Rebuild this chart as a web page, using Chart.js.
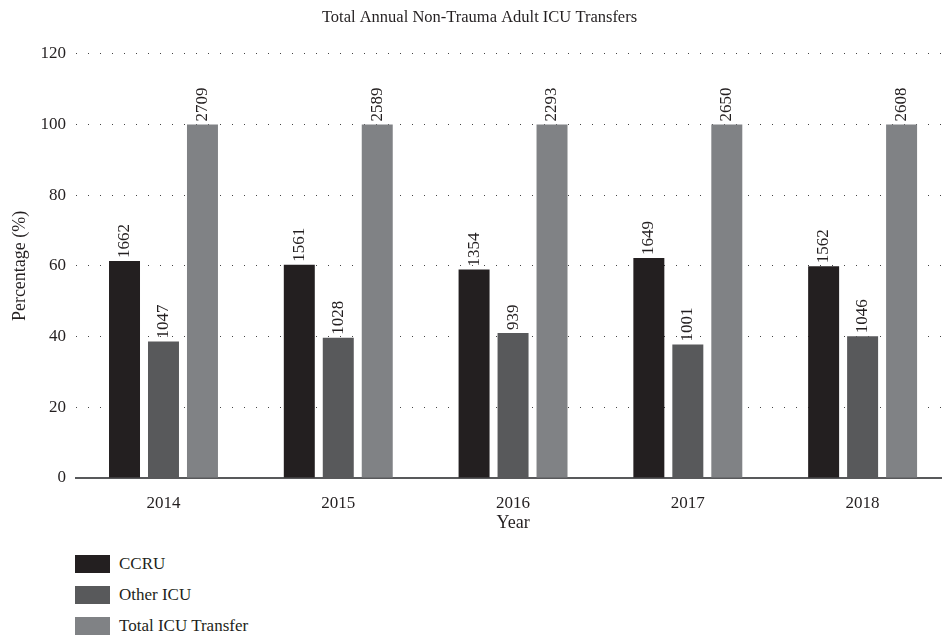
<!DOCTYPE html>
<html>
<head>
<meta charset="utf-8">
<script src="https://cdn.jsdelivr.net/npm/chart.js@4"></script>
<style>
    html, body { margin: 0; padding: 0; background: #fff; overflow: hidden; }
    #wrap { position: relative; width: 950px; height: 534px; }
    #legend { position: absolute; left: 75px; top: 555px; font-family: "Liberation Serif", serif; font-size: 17px; color: #231f20; }
    .item { display: flex; align-items: center; height: 18px; margin-bottom: 13px; }
    .box { width: 35px; height: 18px; margin-right: 9px; }
</style>
</head>
<body>
<div id="wrap"><canvas id="icuChart"></canvas></div>
<div id="legend"></div>
<script>
// Años y series (porcentaje sobre el total anual)
const years = ["2014", "2015", "2016", "2017", "2018"];
const ccruPct = [61.4, 60.3, 59.0, 62.2, 59.9];
const otherPct = [38.6, 39.7, 41.0, 37.8, 40.1];
const totalPct = [100, 100, 100, 100, 100];

// Número de traslados que se muestran encima de cada barra
const ccruCount = [1662, 1561, 1354, 1649, 1562];
const otherCount = [1047, 1028, 939, 1001, 1046];
const totalCount = [2709, 2589, 2293, 2650, 2608];

const yTicks = [0, 20, 40, 60, 80, 100, 120];

const serif = "'Liberation Serif', 'Times New Roman', serif";
const ink = "#231f20";

// Etiquetas verticales con el conteo sobre cada barra
const countLabels = {
    id: "countLabels",
    afterDatasetsDraw(chart) {
        const ctx = chart.ctx;
        chart.data.datasets.forEach((ds, i) => {
            const meta = chart.getDatasetMeta(i);
            meta.data.forEach((bar, j) => {
                ctx.save();
                ctx.translate(bar.x, bar.y - 3);
                ctx.rotate(-Math.PI / 2);
                ctx.font = "17px " + serif;
                ctx.fillStyle = ink;
                ctx.textAlign = "left";
                ctx.textBaseline = "middle";
                ctx.fillText(String(ds.counts[j]), 0, 0);
                ctx.restore();
            });
        });
    },
};

const chart = new Chart(document.getElementById("icuChart"), {
    type: "bar",
    data: {
        labels: years,
        datasets: [
            { label: "CCRU", data: ccruPct, counts: ccruCount, backgroundColor: "#231f20" },
            { label: "Other ICU", data: otherPct, counts: otherCount, backgroundColor: "#58595b" },
            { label: "Total ICU Transfer", data: totalPct, counts: totalCount, backgroundColor: "#808285" },
        ],
    },
    options: {
        responsive: true,
        maintainAspectRatio: false,
        animation: false,
        categoryPercentage: 0.669,
        barPercentage: 0.795,
        layout: { padding: { top: 0, right: 0, bottom: 0, left: 9 } },
        plugins: {
            legend: { display: false },
            tooltip: { enabled: false },
            title: {
                display: true,
                text: "Total Annual Non-Trauma Adult ICU Transfers",
                color: ink,
                font: { family: serif, size: 16.5, weight: "normal" },
                padding: { top: 8, bottom: 26 },
            },
        },
        scales: {
            y: {
                min: 0,
                max: 120,
                afterBuildTicks: (axis) => {
                    axis.ticks = yTicks.map((v) => ({ value: v }));
                },
                border: { display: false },
                grid: {
                    color: (c) => (c.tick.value === 0 ? "rgba(0,0,0,0)" : "#444"),
                    lineWidth: 1,
                    drawTicks: false,
                },
                ticks: {
                    color: ink,
                    padding: 10,
                    font: { family: serif, size: 17 },
                },
                title: {
                    display: true,
                    text: "Percentage (%)",
                    color: ink,
                    font: { family: serif, size: 18 },
                    padding: { top: 0, bottom: 0 },
                },
            },
            x: {
                border: { display: true, color: "#58595b", width: 2 },
                grid: { display: false },
                ticks: {
                    color: ink,
                    padding: 7,
                    font: { family: serif, size: 17 },
                },
                title: {
                    display: true,
                    text: "Year",
                    color: ink,
                    font: { family: serif, size: 18 },
                    padding: { top: -8, bottom: 0 },
                },
            },
        },
    },
    plugins: [countLabels],
});

// Líneas de cuadrícula punteadas
chart.options.scales.y.grid.borderDash = [1, 11];
chart.options.scales.y.border.dash = [1, 11];
chart.update();

// Leyenda vertical debajo del gráfico
const legend = document.getElementById("legend");
chart.data.datasets.forEach((ds) => {
    const row = document.createElement("div");
    row.className = "item";
    row.innerHTML = '<span class="box" style="background:' + ds.backgroundColor + '"></span>' + ds.label;
    legend.appendChild(row);
});
</script>
</body>
</html>
